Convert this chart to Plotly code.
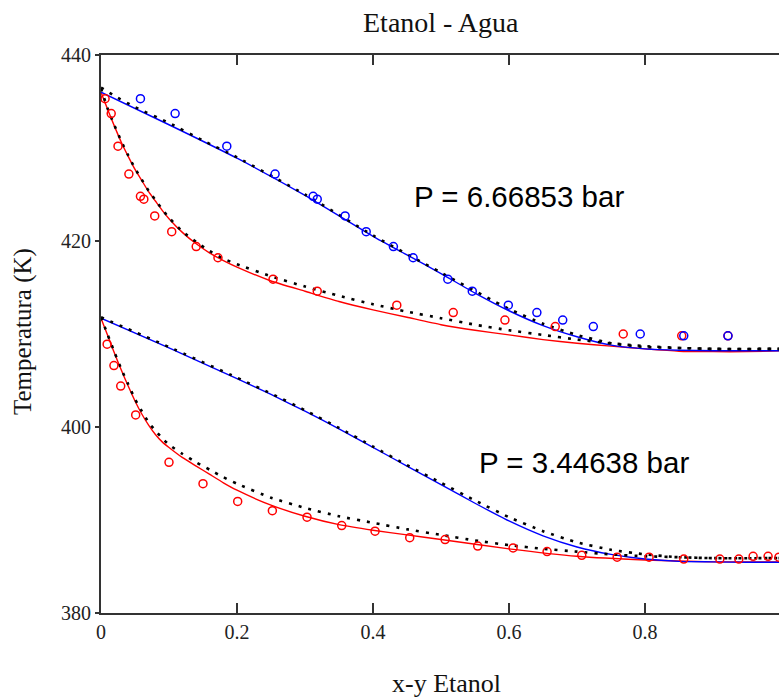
import plotly.graph_objects as go

# ---------------- data ----------------
x_tick_vals = [0, 0.2, 0.4, 0.6, 0.8]
x_tick_text = ["0", "0.2", "0.4", "0.6", "0.8"]
y_tick_vals = [380, 400, 420, 440]
y_tick_text = ["380", "400", "420", "440"]

# P = 6.66853 bar : model 1 (coloured lines)
p1_dew_y = [0, 0.1, 0.2, 0.3, 0.4, 0.45, 0.5, 0.55, 0.6, 0.65, 0.7, 0.75, 0.8, 0.85, 0.9, 1.0]
p1_dew_T = [436.0, 432.5, 428.9, 424.9, 420.5, 418.5, 416.5, 414.4, 412.5, 410.9, 409.7, 408.8, 408.4, 408.25, 408.2, 408.2]
p1_bub_x = [0, 0.01, 0.02, 0.03, 0.04, 0.05, 0.06, 0.07, 0.08, 0.09, 0.1, 0.12, 0.14, 0.16, 0.18, 0.2,
            0.25, 0.3, 0.35, 0.4, 0.45, 0.5, 0.55, 0.6, 0.65, 0.7, 0.75, 0.8, 0.85, 0.9, 0.95, 1.0]
p1_bub_T = [436.0, 434.1, 432.3, 430.6, 429.1, 427.7, 426.5, 425.3, 424.3, 423.3, 422.4, 420.9, 419.7, 418.7, 417.9, 417.2,
            415.7, 414.6, 413.5, 412.6, 411.8, 411.0, 410.4, 409.9, 409.4, 409.0, 408.7, 408.4, 408.15, 408.1, 408.1, 408.2]
# P = 6.66853 bar : model 2 (black dotted)
p1_dew2_y = [0, 0.02, 0.05, 0.1, 0.15, 0.2, 0.3, 0.4, 0.5, 0.6, 0.65, 0.7, 0.75, 0.8, 0.85, 0.9, 1.0]
p1_dew2_T = [436.5, 435.6, 434.4, 432.7, 430.8, 429.0, 425.0, 420.6, 416.6, 412.7, 411.1, 409.9, 409.0, 408.6, 408.5, 408.4, 408.4]
p1_bub2_x = [0, 0.01, 0.02, 0.03, 0.04, 0.05, 0.06, 0.07, 0.08, 0.09, 0.1, 0.12, 0.14, 0.16, 0.18, 0.2,
             0.25, 0.3, 0.35, 0.4, 0.45, 0.5, 0.55, 0.6, 0.65, 0.7, 0.75, 0.8, 0.85, 0.9, 1.0]
p1_bub2_T = [436.4, 434.2, 432.4, 430.7, 429.2, 427.8, 426.6, 425.4, 424.4, 423.4, 422.5, 421.0, 419.9, 418.9, 418.1, 417.5,
             416.2, 415.1, 414.1, 413.2, 412.4, 411.7, 411.0, 410.4, 409.9, 409.4, 409.0, 408.7, 408.5, 408.4, 408.4]
# P = 6.66853 bar : experimental
p1_exp_T = [435.3, 433.7, 430.2, 427.2, 424.8, 424.5, 422.7, 421.0, 419.4, 418.2, 415.9, 414.6, 413.1, 412.3, 411.5, 410.8, 410.0, 409.8, 409.8]
p1_exp_x = [0.006, 0.015, 0.025, 0.041, 0.058, 0.063, 0.079, 0.104, 0.14, 0.172, 0.253, 0.318, 0.435, 0.518, 0.594, 0.668, 0.768, 0.854, 0.922]
p1_exp_y = [0.058, 0.109, 0.185, 0.256, 0.312, 0.318, 0.359, 0.39, 0.43, 0.459, 0.51, 0.546, 0.599, 0.641, 0.679, 0.724, 0.793, 0.857, 0.922]

# P = 3.44638 bar : model 1
p2_dew_y = [0, 0.1, 0.2, 0.25, 0.3, 0.35, 0.4, 0.45, 0.5, 0.55, 0.6, 0.65, 0.7, 0.75, 0.8, 0.85, 0.9, 0.95, 1.0]
p2_dew_T = [411.7, 408.5, 405.2, 403.5, 401.7, 399.8, 397.8, 395.8, 393.8, 391.8, 389.9, 388.3, 387.1, 386.3, 385.8, 385.55, 385.5, 385.45, 385.45]
p2_bub_x = [0, 0.01, 0.02, 0.03, 0.04, 0.05, 0.06, 0.07, 0.08, 0.09, 0.1, 0.12, 0.14, 0.16, 0.18, 0.2,
            0.25, 0.3, 0.35, 0.4, 0.45, 0.5, 0.6, 0.7, 0.8, 0.9, 1.0]
p2_bub_T = [411.7, 409.8, 407.9, 406.1, 404.4, 402.8, 401.4, 400.2, 399.2, 398.4, 397.8, 396.7, 395.8, 394.9, 394.0, 393.2,
            391.6, 390.4, 389.5, 388.9, 388.4, 387.9, 386.9, 386.1, 385.7, 385.5, 385.5]
# P = 3.44638 bar : model 2
p2_dew2_y = [0, 0.1, 0.2, 0.25, 0.3, 0.35, 0.4, 0.45, 0.5, 0.55, 0.6, 0.65, 0.7, 0.75, 0.8, 0.85, 0.9, 1.0]
p2_dew2_T = [411.8, 408.6, 405.3, 403.6, 401.8, 399.9, 397.9, 395.9, 394.0, 392.1, 390.3, 388.8, 387.6, 386.8, 386.3, 386.0, 385.9, 385.9]
p2_bub2_x = [0, 0.01, 0.02, 0.03, 0.04, 0.05, 0.06, 0.07, 0.08, 0.09, 0.1, 0.12, 0.14, 0.16, 0.18, 0.2,
             0.25, 0.3, 0.35, 0.4, 0.45, 0.5, 0.55, 0.6, 0.65, 0.7, 0.75, 0.8, 0.85, 0.9, 1.0]
p2_bub2_T = [411.8, 409.9, 408.0, 406.2, 404.6, 403.0, 401.7, 400.5, 399.6, 398.8, 398.1, 397.1, 396.2, 395.4, 394.6, 393.9,
             392.4, 391.3, 390.4, 389.7, 389.0, 388.4, 387.8, 387.3, 386.9, 386.6, 386.3, 386.1, 386.0, 385.9, 385.9]
# P = 3.44638 bar : experimental (liquid)
p2_exp_x = [0.009, 0.019, 0.029, 0.051, 0.1, 0.15, 0.201, 0.252, 0.303, 0.354, 0.403, 0.454, 0.506, 0.554, 0.606, 0.656, 0.707, 0.759, 0.806, 0.857, 0.91, 0.938, 0.959, 0.981, 0.997]
p2_exp_T = [408.9, 406.6, 404.4, 401.3, 396.2, 393.9, 392.0, 391.0, 390.3, 389.4, 388.8, 388.1, 387.9, 387.2, 387.0, 386.6, 386.2, 386.0, 386.0, 385.8, 385.8, 385.8, 386.1, 386.1, 386.0]

title_text = "Etanol - Agua"
x_label = "x-y Etanol"
y_label = "Temperatura (K)"
label_p1 = "P = 6.66853 bar"
label_p2 = "P = 3.44638 bar"

RED = "#ff0000"
BLUE = "#0000ff"
SERIF = "Liberation Serif, Times New Roman, serif"
SANS = "Liberation Sans, Arial, sans-serif"

fig = go.Figure()


def line(x, y, color):
    fig.add_trace(go.Scatter(x=x, y=y, mode="lines", line=dict(color=color, width=1.4, shape="spline", smoothing=0.5),
                             hoverinfo="skip", showlegend=False))


def dots(x, y):
    fig.add_trace(go.Scatter(x=x, y=y, mode="lines",
                             line=dict(color="black", width=2.6, dash="3px,7px", shape="spline", smoothing=0.5),
                             hoverinfo="skip", showlegend=False))


def circles(x, y, color):
    fig.add_trace(go.Scatter(x=x, y=y, mode="markers",
                             marker=dict(symbol="circle-open", size=8, color=color, line=dict(width=1.5, color=color)),
                             hoverinfo="skip", showlegend=False))


line(p1_bub_x, p1_bub_T, RED)
line(p1_dew_y, p1_dew_T, BLUE)
line(p2_bub_x, p2_bub_T, RED)
line(p2_dew_y, p2_dew_T, BLUE)
dots(p1_bub2_x, p1_bub2_T)
dots(p1_dew2_y, p1_dew2_T)
dots(p2_bub2_x, p2_bub2_T)
dots(p2_dew2_y, p2_dew2_T)
circles(p1_exp_x, p1_exp_T, RED)
circles(p1_exp_y, p1_exp_T, BLUE)
circles(p2_exp_x, p2_exp_T, RED)

AX = "#333333"
fig.update_layout(
    width=779, height=698,
    margin=dict(l=101, r=0, t=55, b=85),
    paper_bgcolor="white", plot_bgcolor="white",
    showlegend=False,
    xaxis=dict(range=[0, 0.99706], tickvals=x_tick_vals, ticktext=x_tick_text,
               ticks="inside", ticklen=10, tickwidth=2, tickcolor=AX,
               showline=True, linecolor=AX, linewidth=2, mirror="ticks",
               showgrid=False, zeroline=False,
               tickfont=dict(family=SERIF, size=20, color="#222222")),
    yaxis=dict(range=[380, 440], tickvals=y_tick_vals, ticktext=y_tick_text,
               ticks="outside", ticklen=4, tickwidth=2, tickcolor=AX,
               showline=True, linecolor=AX, linewidth=2,
               showgrid=False, zeroline=False,
               tickfont=dict(family=SERIF, size=20, color="#222222")),
    annotations=[
        dict(text=title_text, xref="paper", yref="paper", x=0.502, y=1.059, xanchor="center", yanchor="middle",
             showarrow=False, font=dict(family=SERIF, size=28, color="#111111")),
        dict(text=x_label, xref="paper", yref="paper", x=0.51, y=-0.127, xanchor="center", yanchor="middle",
             showarrow=False, font=dict(family=SERIF, size=26, color="#111111")),
        dict(text=y_label, xref="paper", yref="paper", x=-0.115, y=0.5036, xanchor="center", yanchor="middle",
             textangle=-90, showarrow=False, font=dict(family=SERIF, size=25, color="#111111")),
        dict(text=label_p1, xref="x", yref="y", x=0.615, y=424.8, xanchor="center", yanchor="middle",
             showarrow=False, font=dict(family=SANS, size=29.5, color="black")),
        dict(text=label_p2, xref="x", yref="y", x=0.71, y=396.2, xanchor="center", yanchor="middle",
             showarrow=False, font=dict(family=SANS, size=29.5, color="black")),
    ],
)

fig.write_html("out.html")
